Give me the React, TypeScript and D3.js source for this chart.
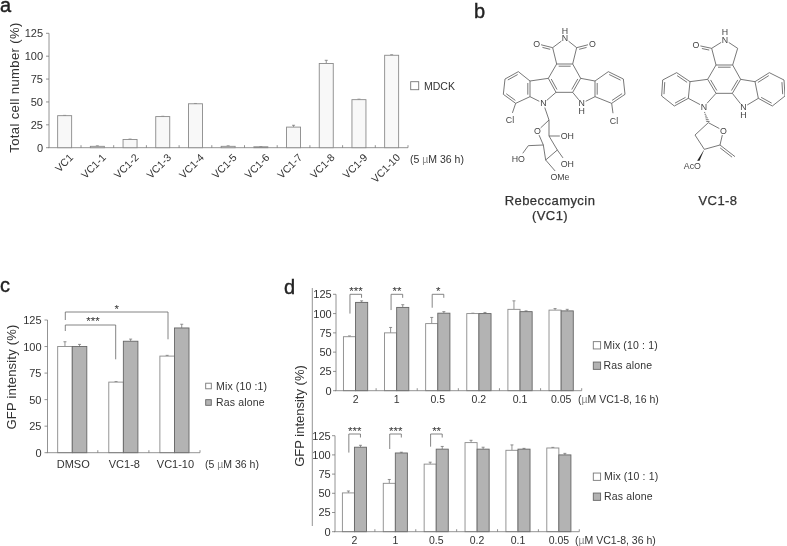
import React from "react";
import * as d3 from "d3";

const compounds = ["VC1","VC1-1","VC1-2","VC1-3","VC1-4","VC1-5","VC1-6","VC1-7","VC1-8","VC1-9","VC1-10"];
const mdckValues = [35,1.5,9,34,48,1.5,1,22.5,92,52.5,101];
const mdckErrors = [0.3,0.5,0.4,0.3,0.3,0.5,0.3,2,3.5,0.5,0.5];

const cGroups = ["DMSO","VC1-8","VC1-10"];
const cMix = [100,66.5,91];
const cMixErr = [4.5,0.5,0.7];
const cRas = [100,105,117.5];
const cRasErr = [2,2,3.5];

const doses = ["2","1","0.5","0.2","0.1","0.05"];
const d16Mix = [70,75,87,100,105.5,104.5];
const d16MixErr = [1,7,8,0.5,11,2];
const d16Ras = [114.5,108,100.5,100,102.5,103.5];
const d16RasErr = [2,3.5,2,1.5,1,2];
const d36Mix = [50.5,63,88,116,106,109];
const d36MixErr = [2.5,5,2.5,3,7,0.8];
const d36Ras = [110,102.5,107.5,107.5,107.5,100];
const d36RasErr = [2.5,1,3.5,2.5,1,2];

const yTicks = [0,25,50,75,100,125];
const d16Sig = [{g:0,low:100,label:"***"},{g:1,low:104.6,label:"**"},{g:2,low:107.6,label:"*"}];
const d36Sig = [{g:0,low:103,label:"***"},{g:1,low:107.7,label:"***"},{g:2,low:110.7,label:"**"}];

const FONT = "'Liberation Sans', Arial, sans-serif";
const INK = "#333";
const AXIS = "#777";

type Atom = [number, number, string?, ("up"|"down")?];
const rebAtoms: Record<string, Atom> = {
  N1:[255,115,"N","up"],Cl:[218,143],O1:[170,131,"O"],Cr:[290,143],O2:[337,131,"O"],
  a:[230,192],b:[278,192],c:[302,235],d:[278,277],e:[228,277],f:[205,235],
  l1:[150,243],l2:[115,215],l3:[75,237],l4:[70,283],l5:[107,310],l6:[150,290],N2:[190,310,"N"],
  r1:[345,243],r2:[385,215],r3:[430,237],r4:[435,283],r5:[395,310],r6:[345,290],N3:[305,310,"N","down"],
  CL1:[90,360,"Cl"],CL2:[402,362,"Cl"],
  s1:[207,360],sO:[172,393,"O"],s2:[207,408],OH1:[262,408,"OH"],s3:[232,450],OH2:[262,492,"OH"],
  s4:[197,480],OMe:[240,530,"OMe"],s5:[190,435],s6:[145,437],HO:[115,478,"HO"],
};
const rebBonds: [string,string,[number,number]?][] = [
  ["N1","Cl"],["N1","Cr"],["Cl","O1",[200,160]],["Cr","O2",[310,160]],["Cl","a"],["Cr","b"],
  ["a","b",[254,235]],["b","c"],["c","d",[254,235]],["d","e"],["e","f",[254,235]],["f","a"],
  ["f","l1"],["l1","l2"],["l2","l3",[110,262]],["l3","l4"],["l4","l5",[110,262]],["l5","l6"],["l6","l1",[110,262]],
  ["l6","N2"],["N2","e"],
  ["c","r1"],["r1","r2"],["r2","r3",[390,262]],["r3","r4"],["r4","r5",[390,262]],["r5","r6"],["r6","r1",[390,262]],
  ["r6","N3"],["N3","d"],["l5","CL1"],["r5","CL2"],
  ["N2","s1"],["s1","sO"],["s1","s2"],["s2","OH1"],["s2","s3"],["s3","OH2"],["s3","s4"],["s4","OMe"],["s4","s5"],["s5","sO"],["s5","s6"],["s6","HO"],
];
const vcAtoms: Record<string, Atom> = {
  N1:[735,120,"N","up"],C1:[695,145],O1:[648,135,"O"],C2:[773,145],
  a:[708,195],b:[758,195],c:[782,238],d:[757,280],e:[708,280],f:[683,238],
  l1:[630,245],l2:[590,218],l3:[548,240],l4:[545,288],l5:[583,318],l6:[625,295],N2:[672,320,"N"],
  r1:[825,245],r2:[868,218],r3:[912,240],r4:[915,288],r5:[877,318],r6:[835,295],N3:[790,322,"N","down"],
  s1:[685,368],sO:[730,392,"O"],s2:[720,435],s3:[673,448],s4:[645,405],CH:[765,470],OAc:[637,497,"AcO"],
};
const vcBonds: [string,string,[number,number]?][] = [
  ["N1","C1"],["N1","C2"],["C1","O1",[675,160]],["C2","b"],["C1","a"],
  ["a","b",[733,238]],["b","c"],["c","d",[733,238]],["d","e"],["e","f",[733,238]],["f","a"],
  ["f","l1"],["l1","l2",[588,268]],["l2","l3"],["l3","l4",[588,268]],["l4","l5"],["l5","l6",[588,268]],["l6","l1"],
  ["l6","N2"],["N2","e"],
  ["c","r1"],["r1","r2",[872,268]],["r2","r3"],["r3","r4",[872,268]],["r4","r5"],["r5","r6",[872,268]],["r6","r1"],
  ["r6","N3"],["N3","d"],
  ["s1","sO"],["sO","s2"],["s2","s3"],["s3","s4"],["s4","s1"],["s2","CH",[725,480]],
];

const mx = d3.scaleLinear().domain([0,3]).range([480,481]);
const my = d3.scaleLinear().domain([0,3]).range([0,1]);

function trim(a:Atom,b:Atom){
  let x1=mx(a[0]),y1=my(a[1]),x2=mx(b[0]),y2=my(b[1]);
  const L=Math.hypot(x2-x1,y2-y1);
  const ux=(x2-x1)/L,uy=(y2-y1)/L;
  const gap=(t?:string)=>!t?0:(t.length>1?7.5:4.5);
  const g1=gap(a[2]),g2=gap(b[2]);
  return [x1+ux*g1,y1+uy*g1,x2-ux*g2,y2-uy*g2];
}

function AtomLabel({a}:{a:Atom}){
  const x=mx(a[0]),yy=my(a[1]),step=7.8;
  const common={textAnchor:"middle" as const,fontFamily:FONT,fontSize:8.8,fill:"#444",stroke:"none"};
  if(a[3]==="up") return <text {...common} x={x} y={yy-step+3}><tspan x={x}>H</tspan><tspan x={x} dy={step}>{a[2]}</tspan></text>;
  if(a[3]==="down") return <text {...common} x={x} y={yy+3}><tspan x={x}>{a[2]}</tspan><tspan x={x} dy={step}>H</tspan></text>;
  return <text {...common} x={x} y={yy} dy="0.35em">{a[2]}</text>;
}

function Molecule({atoms,bonds}:{atoms:Record<string,Atom>;bonds:[string,string,[number,number]?][]}){
  return <g stroke="#555" strokeWidth={0.8} fill="none">
    {bonds.map(([p,q,c],i)=>{
      const [x1,y1,x2,y2]=trim(atoms[p],atoms[q]);
      let second=null;
      if(c){
        const cx=mx(c[0]),cy=my(c[1]);
        const L=Math.hypot(x2-x1,y2-y1);
        let nx=-(y2-y1)/L,ny=(x2-x1)/L;
        if(nx*(cx-(x1+x2)/2)+ny*(cy-(y1+y2)/2)<0){nx=-nx;ny=-ny;}
        const ux=(x2-x1)/L,uy=(y2-y1)/L,s=2,o=2.2;
        second=<line x1={x1+nx*o+ux*s} y1={y1+ny*o+uy*s} x2={x2+nx*o-ux*s} y2={y2+ny*o-uy*s}/>;
      }
      return <g key={i}><line x1={x1} y1={y1} x2={x2} y2={y2}/>{second}</g>;
    })}
    {Object.entries(atoms).filter(([,a])=>a[2]).map(([k,a])=><AtomLabel key={k} a={a}/>)}
  </g>;
}

function YAxis({x,y,gap=6,size=11}:{x:number;y:d3.ScaleLinear<number,number>;gap?:number;size?:number}){
  return <g>
    <line x1={x} x2={x} y1={y(0)} y2={y(125)} stroke={AXIS} strokeWidth={0.8}/>
    {yTicks.map(t=><g key={t}>
      <line x1={x-3} x2={x} y1={y(t)} y2={y(t)} stroke={AXIS} strokeWidth={0.8}/>
      <text x={x-gap} y={y(t)} dy="0.36em" textAnchor="end" fontSize={size} fill={INK}>{t}</text>
    </g>)}
  </g>;
}

function XBase({band,y0,labels}:{band:d3.ScaleBand<string>;y0:number;labels:string[]}){
  const [a,b]=band.range();
  return <g>
    <line x1={a} x2={b} y1={y0} y2={y0} stroke={AXIS} strokeWidth={0.8}/>
    {labels.map((l,i)=>{
      const xx=(band(l) as number)+band.bandwidth();
      return <line key={l} x1={xx} x2={xx} y1={y0-2.5} y2={y0} stroke={AXIS} strokeWidth={0.8}/>;
    })}
  </g>;
}

function Bar({x,w,v,e,y,fill,stroke}:{x:number;w:number;v:number;e:number;y:d3.ScaleLinear<number,number>;fill:string;stroke:string}){
  const cx=x+w/2;
  return <g>
    <line x1={cx} x2={cx} y1={y(v)} y2={y(v+e)} stroke="#777" strokeWidth={0.8}/>
    <line x1={cx-1.5} x2={cx+1.5} y1={y(v+e)} y2={y(v+e)} stroke="#777" strokeWidth={0.8}/>
    <rect x={x} y={y(v)} width={w} height={y(0)-y(v)} fill={fill} stroke={stroke} strokeWidth={0.9}/>
  </g>;
}

const MIXSTROKE="#8a8a8a", RASFILL="#b3b3b3", RASSTROKE="#666";

function Grouped({groups,mix,mixE,ras,rasE,band,y}:{groups:string[];mix:number[];mixE:number[];ras:number[];rasE:number[];band:d3.ScaleBand<string>;y:d3.ScaleLinear<number,number>}){
  const w=band.bandwidth()*(groups.length===3?0.285:0.295);
  return <g>
    {groups.map((g,i)=>{
      const c=(band(g) as number)+band.bandwidth()/2;
      return <g key={g}>
        <Bar x={c-w} w={w} v={mix[i]} e={mixE[i]} y={y} fill="#fff" stroke={MIXSTROKE}/>
        <Bar x={c} w={w} v={ras[i]} e={rasE[i]} y={y} fill={RASFILL} stroke={RASSTROKE}/>
      </g>;
    })}
  </g>;
}

function Sig({items,band,groups,y,top}:{items:{g:number;low:number;label:string}[];band:d3.ScaleBand<string>;groups:string[];y:d3.ScaleLinear<number,number>;top:number}){
  return <g>{items.map((s,i)=>{
    const c=(band(groups[s.g]) as number)+band.bandwidth()/2;
    const l=c-5.6,r=c+6;
    return <g key={i}>
      <path d={`M${l},${y(s.low)}V${top}H${r}V${top+3.5}`} fill="none" stroke="#666" strokeWidth={0.8}/>
      <text x={c+0.4} y={top+1} textAnchor="middle" fontSize={11.5} fill={INK}>{s.label}</text>
    </g>;
  })}</g>;
}

function Legend({x,tx,ys,w,h,size=10.5,names=["Mix (10 : 1)","Ras alone"]}:{x:number;tx:number;ys:number[];w:number;h:number;size?:number;names?:string[]}){
  return <g>{names.map((n,i)=><g key={n}>
    <rect x={x} y={ys[i]-h/2} width={w} height={h} fill={i?RASFILL:"#fff"} stroke={i?RASSTROKE:"#777"} strokeWidth={0.9}/>
    <text x={tx} y={ys[i]} dy="0.36em" fontSize={size} letterSpacing={0.15} fill={INK}>{n}</text>
  </g>)}</g>;
}

const Mu=()=><tspan fill="#888">µ</tspan>;

export default function App(){
  const aY=d3.scaleLinear().domain([0,125]).range([147.7,33.3]);
  const aX=d3.scaleBand<string>().domain(compounds).range([48.3,408]);
  const cY=d3.scaleLinear().domain([0,125]).range([452.7,320]);
  const cX=d3.scaleBand<string>().domain(cGroups).range([46.7,200]);
  const d1Y=d3.scaleLinear().domain([0,125]).range([390.7,294.3]);
  const d1X=d3.scaleBand<string>().domain(doses).range([335,581.7]);
  const d2Y=d3.scaleLinear().domain([0,125]).range([531.7,435.7]);
  const d2X=d3.scaleBand<string>().domain(doses).range([334,579.3]);
  const aW=14;
  return (
    <svg width={787} height={546} viewBox="0 0 787 546" style={{position:"absolute",left:0,top:0,background:"#fff"}} fontFamily={FONT}>
      <defs><filter id="soft" x="0" y="0" width="100%" height="100%"><feGaussianBlur stdDeviation="0.35"/></filter></defs>
      <rect width={787} height={546} fill="#fff"/>
      <g filter="url(#soft)">
        <g fontSize={20} fill="#222" stroke="#222" strokeWidth={0.4}>
          <text x={0} y={12}>a</text>
          <text x={474} y={18}>b</text>
          <text x={0} y={292}>c</text>
          <text x={284} y={294}>d</text>
        </g>

        {/* a */}
        <text transform="translate(18.5,87.5) rotate(-90)" textAnchor="middle" fontSize={13} letterSpacing={0.4} fill={INK}>Total cell number (%)</text>
        <YAxis x={49} y={aY}/>
        <XBase band={aX} y0={aY(0)} labels={compounds}/>
        {compounds.map((c,i)=>{
          const x=(aX(c) as number)+aX.bandwidth()/2;
          return <g key={c}>
            <Bar x={x-aW/2} w={aW} v={mdckValues[i]} e={mdckErrors[i]} y={aY} fill="#f8f8f8" stroke="#8a8a8a"/>
            <text transform={`translate(${x+5.5},${154.5}) rotate(-45)`} textAnchor="end" dy="0.5em" fontSize={10.5} fill={INK}>{c}</text>
          </g>;
        })}
        <rect x={410.7} y={81.7} width={8} height={8} fill="#fff" stroke="#777" strokeWidth={0.9}/>
        <text x={424} y={86} dy="0.36em" fontSize={10.5} fill={INK}>MDCK</text>
        <text x={410} y={159} dy="0.36em" fontSize={10.5} fill={INK}>(5 <Mu/>M 36 h)</text>

        {/* b */}
        <Molecule atoms={rebAtoms} bonds={rebBonds}/>
        <Molecule atoms={vcAtoms} bonds={vcBonds}/>
        <path d={`M${mx(673)},${my(448)}L${mx(655)-1.2},${my(482)}L${mx(655)+1.2},${my(482)}Z`} fill="#222"/>
        {[0.15,0.3,0.45,0.6,0.75,0.9].map(t=>{
          const x=mx(672+(685-672)*t),yy=my(332+(368-332)*t),h=0.3+t*1.5;
          return <line key={t} x1={x-h} x2={x+h} y1={yy} y2={yy} stroke="#444" strokeWidth={0.7}/>;
        })}
        <g fontSize={13} fill={INK} stroke={INK} strokeWidth={0.25} textAnchor="middle" letterSpacing={0.45}>
          <text x={550} y={200} dy="0.36em">Rebeccamycin</text>
          <text x={550} y={215} dy="0.36em">(VC1)</text>
          <text x={718} y={200} dy="0.36em">VC1-8</text>
        </g>

        {/* c */}
        <text transform="translate(16,377) rotate(-90)" textAnchor="middle" fontSize={13} letterSpacing={0.2} fill={INK}>GFP intensity (%)</text>
        <Grouped groups={cGroups} mix={cMix} mixE={cMixErr} ras={cRas} rasE={cRasErr} band={cX} y={cY}/>
        <YAxis x={47.5} y={cY}/>
        <XBase band={cX} y0={cY(0)} labels={cGroups}/>
        {cGroups.map(g=><text key={g} x={(cX(g) as number)+cX.bandwidth()/2+1} y={464} dy="0.36em" textAnchor="middle" fontSize={11} fill={INK}>{g}</text>)}
        <path d={`M65.3,331V325H115.7V359.3`} fill="none" stroke="#666" strokeWidth={0.8}/>
        <path d={`M65.3,320V312H168V339.3`} fill="none" stroke="#666" strokeWidth={0.8}/>
        <text x={93} y={325.3} textAnchor="middle" fontSize={11.5} fill={INK}>***</text>
        <text x={116.7} y={313} textAnchor="middle" fontSize={11.5} fill={INK}>*</text>
        <Legend x={205.7} tx={216} ys={[386,402.5]} w={5.6} h={5.6} size={10.5} names={["Mix (10 :1)","Ras alone"]}/>
        <text x={205} y={464} dy="0.36em" fontSize={10.5} fill={INK}>(5 <Mu/>M 36 h)</text>

        {/* d */}
        <line x1={312.3} x2={312.3} y1={288} y2={526} stroke="#888" strokeWidth={0.9}/>
        <text transform="translate(303.5,416) rotate(-90)" textAnchor="middle" fontSize={13} letterSpacing={0} fill={INK}>GFP intensity (%)</text>

        <Grouped groups={doses} mix={d16Mix} mixE={d16MixErr} ras={d16Ras} rasE={d16RasErr} band={d1X} y={d1Y}/>
        <YAxis x={336} y={d1Y} gap={4.3}/>
        <XBase band={d1X} y0={d1Y(0)} labels={doses}/>
        {doses.map(g=><text key={g} x={(d1X(g) as number)+d1X.bandwidth()/2} y={399.5} dy="0.36em" textAnchor="middle" fontSize={10.5} fill={INK}>{g}</text>)}
        <Sig items={d16Sig} band={d1X} groups={doses} y={d1Y} top={294.3}/>
        <Legend x={593.3} tx={603.5} ys={[345.3,365.7]} w={7.3} h={7.3} size={10.5}/>
        <text x={578} y={399.5} dy="0.36em" fontSize={10.5} fill={INK}>(<Mu/>M VC1-8, 16 h)</text>

        <Grouped groups={doses} mix={d36Mix} mixE={d36MixErr} ras={d36Ras} rasE={d36RasErr} band={d2X} y={d2Y}/>
        <YAxis x={335} y={d2Y} gap={4.3}/>
        <XBase band={d2X} y0={d2Y(0)} labels={doses}/>
        {doses.map(g=><text key={g} x={(d2X(g) as number)+d2X.bandwidth()/2} y={540} dy="0.36em" textAnchor="middle" fontSize={10.5} fill={INK}>{g}</text>)}
        <Sig items={d36Sig} band={d2X} groups={doses} y={d2Y} top={434}/>
        <Legend x={593.3} tx={604} ys={[476.7,496.7]} w={7.3} h={7.3} size={10.5}/>
        <text x={575} y={540} dy="0.36em" fontSize={10.5} fill={INK}>(<Mu/>M VC1-8, 36 h)</text>
      </g>
    </svg>
  );
}
